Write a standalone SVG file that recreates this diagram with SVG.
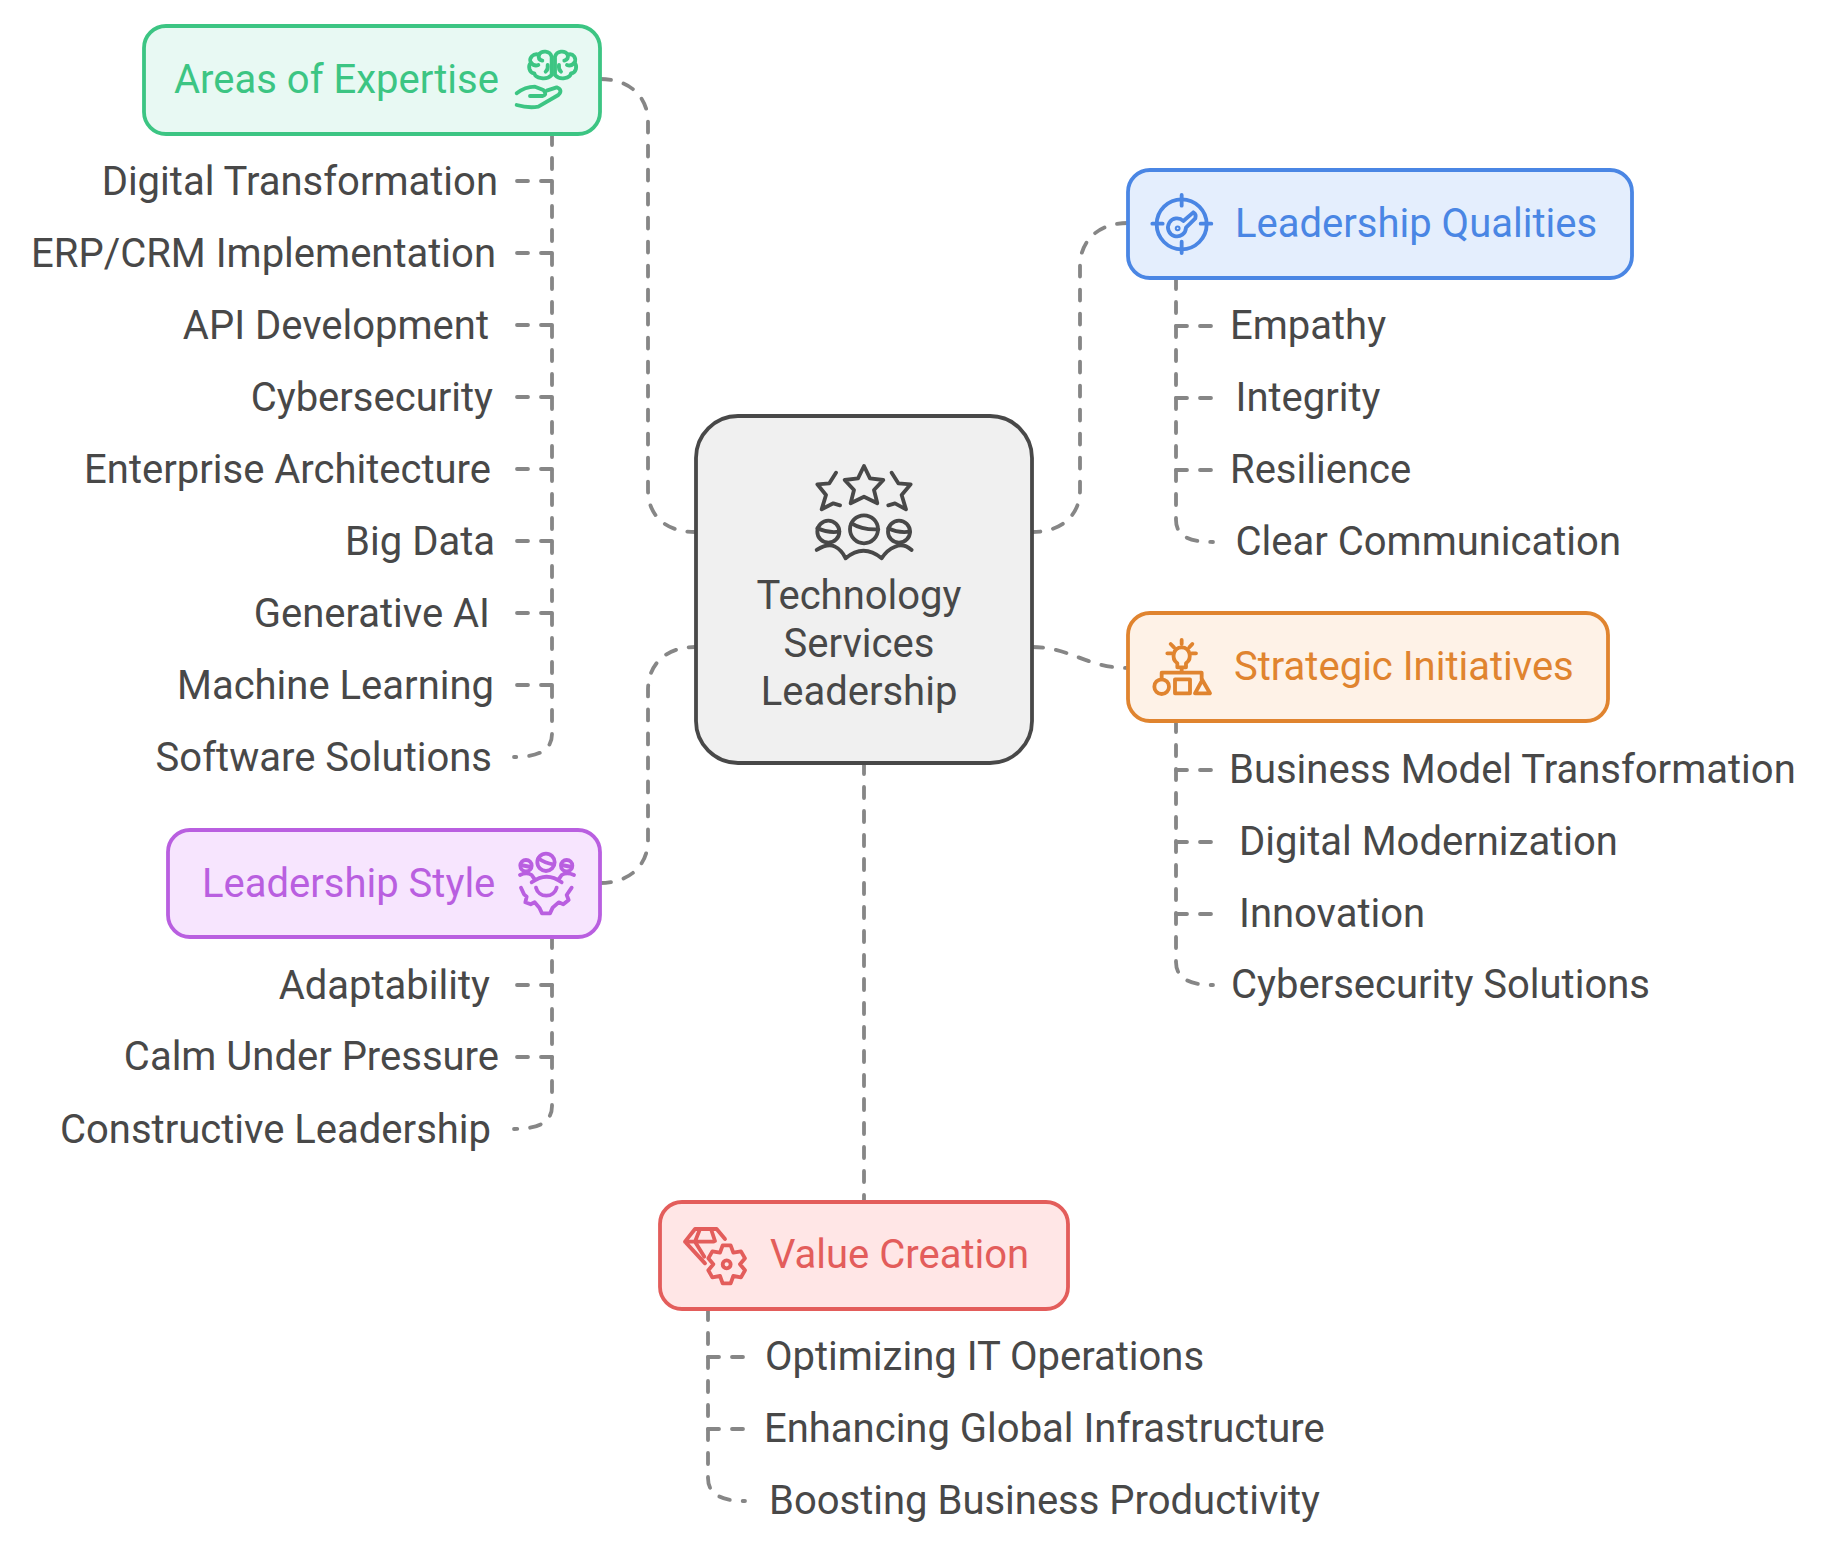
<svg xmlns="http://www.w3.org/2000/svg" width="1824" height="1550" viewBox="0 0 1824 1550">
<style>
text{font-family:Roboto,"Liberation Sans",sans-serif;font-size:40px;fill:#484848}
.e{text-anchor:end}
.c{text-anchor:middle}
.box{stroke-width:3.8}
.ic{fill:none;stroke-width:11.5;stroke-linecap:round;stroke-linejoin:round}
#connectors path{fill:none;stroke:#868686;stroke-width:3.8;stroke-dasharray:11 13;stroke-linecap:round}
</style>
<rect width="1824" height="1550" fill="#fff"/>
<g id="connectors">
<path d="M600 79C630 79 648 97 648 122V490C648 515 665 532 695 532"/>
<path d="M1128 223C1098 223 1080 241 1080 266V490C1080 515 1062 532 1032 532"/>
<path d="M1032 647C1071 647 1086 668 1128 668"/>
<path d="M600 883C630 883 648 865 648 840V690C648 665 665 647 695 647"/>
<path d="M864 763V1201"/>
<path d="M552 134V734C552 750 539 757 514 757"/>
<path d="M552 181H514M552 253H514M552 325H514M552 397H514M552 469H514M552 541H514M552 613H514M552 685H514"/>
<path d="M1176 278V520C1176 536 1189 542 1213 542"/>
<path d="M1176 326H1213"/><path d="M1176 398H1213"/><path d="M1176 470H1213"/>
<path d="M1176 721V962C1176 978 1189 985 1213 985"/>
<path d="M1176 770H1213"/><path d="M1176 842H1213"/><path d="M1176 914H1213"/>
<path d="M552 937V1106C552 1122 539 1129 514 1129"/>
<path d="M552 985H514"/><path d="M552 1057H514"/>
<path d="M708 1309V1478C708 1494 721 1501 745 1501"/>
<path d="M708 1357H745"/><path d="M708 1429H745"/>
</g>
<g id="center">
<rect class="box" x="696" y="416" width="336" height="347" rx="42" fill="#f0f0f0" stroke="#484848"/>
<g class="ic" transform="translate(800 450) scale(.3333)" stroke="#484848">
<path d="M192 48L210 85L250 90L222 120L232 160L192 140L152 160L162 120L134 90L174 85Z"/>
<path d="M108 68L88 100L52 103L78 135L65 178L100 160L120 166"/>
<path d="M275 68L295 100L332 103L305 135L318 178L285 160L265 166"/>
<circle cx="85" cy="245" r="33"/><circle cx="192" cy="238" r="42"/><circle cx="297" cy="245" r="33"/>
<path d="M52 235Q85 250 118 245M155 220Q185 240 235 238M265 235Q295 250 330 245"/>
<path d="M50 300Q85 278 105 290Q125 300 137 325Q190 280 245 325Q260 300 285 290Q310 278 335 300"/>
</g>
<text class="c" x="859" y="609">Technology</text>
<text class="c" x="859" y="657">Services</text>
<text class="c" x="859" y="705">Leadership</text>
</g>
<g id="areas">
<rect class="box" x="144" y="26" width="456" height="108" rx="22" fill="#e8f9f3" stroke="#3cc583"/>
<text x="174" y="93" style="fill:#3cc583">Areas of Expertise</text>
<g class="ic" transform="translate(505 30) scale(.3333)" stroke="#3cc583">
<path d="M140 80C135 62 110 60 102 74C85 68 70 85 78 98C68 108 72 128 88 130C90 145 125 152 140 135Z"/>
<path d="M150 80C155 62 180 60 188 74C205 68 216 85 208 98C218 108 214 128 198 130C196 145 165 152 150 135Z"/>
<path d="M102 74Q98 88 112 92M78 98Q88 110 100 105M122 125Q130 118 128 105M188 74Q192 88 178 92M208 98Q198 110 186 105M168 125Q160 118 162 105"/>
<path d="M35 190Q60 170 90 170L115 180Q128 195 112 198H75M35 225Q70 235 100 230L160 195Q175 180 155 172L125 182"/>
</g>
</g>
<g id="digital"><text class="e" x="498" y="195">Digital Transformation</text></g>
<g id="erp"><text class="e" x="496" y="267">ERP/CRM Implementation</text></g>
<g id="api"><text class="e" x="489" y="339">API Development</text></g>
<g id="cyber"><text class="e" x="493" y="411">Cybersecurity</text></g>
<g id="enterprise"><text class="e" x="491" y="483">Enterprise Architecture</text></g>
<g id="bigdata"><text class="e" x="495" y="555">Big Data</text></g>
<g id="genai"><text class="e" x="490" y="627">Generative AI</text></g>
<g id="ml"><text class="e" x="494" y="699">Machine Learning</text></g>
<g id="software"><text class="e" x="492" y="771">Software Solutions</text></g>
<g id="qualities">
<rect class="box" x="1128" y="170" width="504" height="108" rx="22" fill="#e4eefd" stroke="#4a86e4"/>
<text x="1235" y="237" style="fill:#4a86e4">Leadership Qualities</text>
<g class="ic" transform="translate(1140 185) scale(.3333)" stroke="#4a86e4">
<circle cx="125" cy="118" r="75"/>
<path d="M125 30V62M125 170V204M37 116H68M182 116H214"/>
<path d="M130 108L160 82Q170 88 166 100L138 128A27 27 0 1 1 130 108Z"/>
<circle cx="113" cy="130" r="3"/>
</g>
</g>
<g id="empathy"><text x="1230" y="339">Empathy</text></g>
<g id="integrity"><text x="1235.500" y="411">Integrity</text></g>
<g id="resilience"><text x="1230" y="483">Resilience</text></g>
<g id="clear"><text x="1235.500" y="555">Clear Communication</text></g>
<g id="strategic">
<rect class="box" x="1128" y="613" width="480" height="108" rx="22" fill="#fef2e7" stroke="#e0842f"/>
<text x="1234" y="680" style="fill:#e0842f">Strategic Initiatives</text>
<g class="ic" transform="translate(1140 630) scale(.3333)" stroke="#e0842f">
<path d="M125 30V42M92 42L102 52M157 42L148 52M82 70H95M168 70H155"/>
<path d="M112 100C92 85 100 52 125 52C150 52 158 85 138 100V112H112ZM125 112V128M65 148V128H185V148"/>
<circle cx="65" cy="170" r="22"/><rect x="105" y="148" width="45" height="42"/>
<path d="M187 150L210 190H165Z"/>
</g>
</g>
<g id="bmt"><text x="1229" y="783">Business Model Transformation</text></g>
<g id="dm"><text x="1239" y="855">Digital Modernization</text></g>
<g id="innovation"><text x="1239" y="927">Innovation</text></g>
<g id="css"><text x="1231" y="998">Cybersecurity Solutions</text></g>
<g id="style">
<rect class="box" x="168" y="830" width="432" height="107" rx="22" fill="#f7e5fe" stroke="#b95fe0"/>
<text x="202" y="897" style="fill:#b95fe0">Leadership Style</text>
<g class="ic" transform="translate(510 845) scale(.3333)" stroke="#b95fe0">
<circle cx="48" cy="62" r="17"/><circle cx="108" cy="52" r="26"/><circle cx="170" cy="62" r="17"/>
<path d="M32 60L62 66M85 40Q105 55 130 58M155 60L185 66"/>
<path d="M30 90Q50 80 65 90L72 100M65 112Q110 78 155 112M192 90Q170 80 155 90L148 100"/>
<path d="M78 128A32 32 0 0 0 140 128"/>
<path d="M33 128L42 148L50 155L46 172L62 178L74 172L88 188L96 205H120L128 188L146 172L160 178L176 165L170 150L185 128"/>
</g>
</g>
<g id="adapt"><text class="e" x="490" y="999">Adaptability</text></g>
<g id="calm"><text class="e" x="499" y="1070">Calm Under Pressure</text></g>
<g id="constructive"><text class="e" x="491" y="1143">Constructive Leadership</text></g>
<g id="value">
<rect class="box" x="660" y="1202" width="408" height="107" rx="22" fill="#ffe6e6" stroke="#e35d5b"/>
<text x="770" y="1268" style="fill:#e35d5b">Value Creation</text>
<g class="ic" transform="translate(675 1215) scale(.3333)" stroke="#e35d5b">
<path d="M150 72L125 42H60L30 80L90 145M30 80H115M75 42L60 80L88 125M108 42L120 78"/>
<path d="M143 91H167L175 113L198 109L210 130L195 148L210 166L198 187L175 183L167 205H143L135 183L112 187L100 166L115 148L100 130L112 109L135 113Z"/>
<circle cx="155" cy="148" r="12"/>
</g>
</g>
<g id="opt"><text x="765" y="1370">Optimizing IT Operations</text></g>
<g id="enh"><text x="764" y="1442">Enhancing Global Infrastructure</text></g>
<g id="boost"><text x="769" y="1514">Boosting Business Productivity</text></g>
</svg>
